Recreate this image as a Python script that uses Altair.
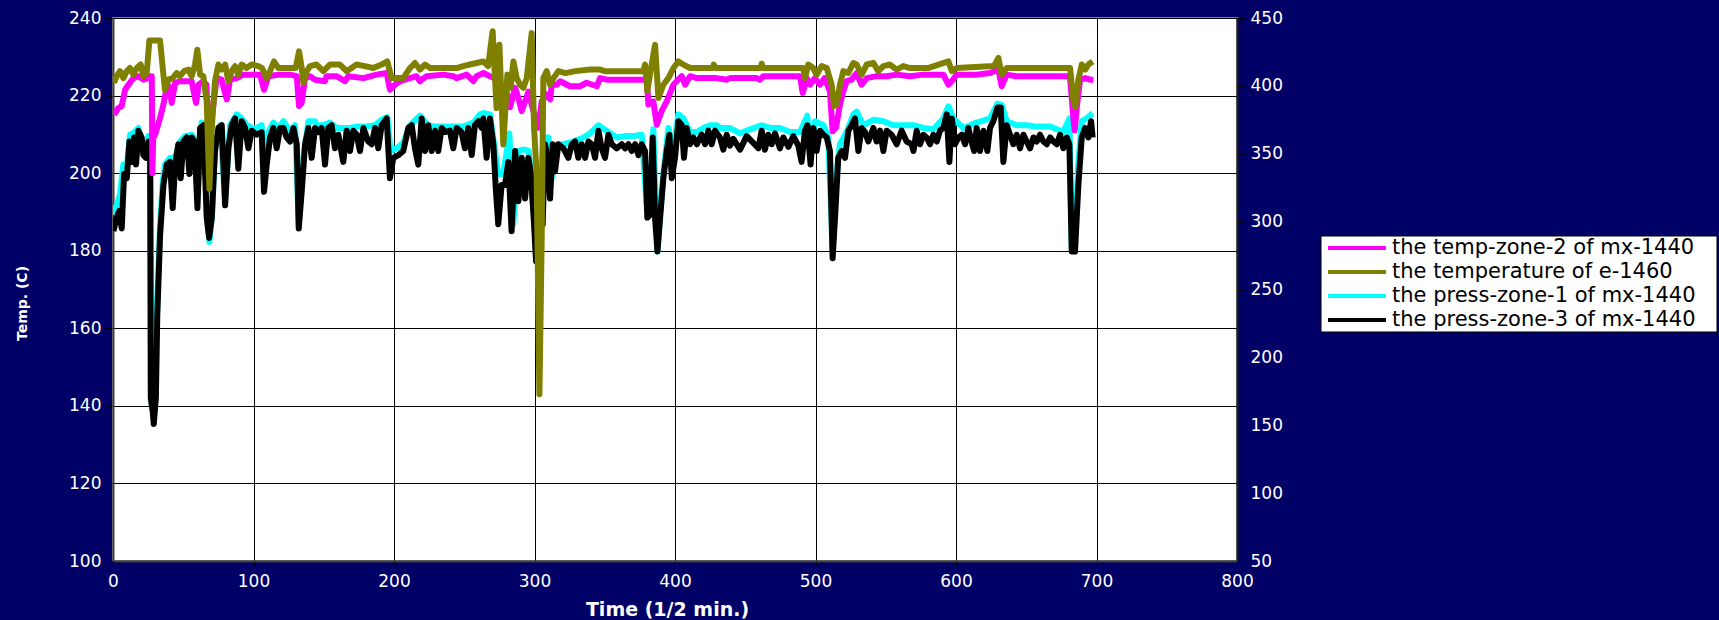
import altair as alt
import pandas as pd

FONT = "DejaVu Sans"

NAMES = ["the temp-zone-2 of mx-1440", "the temperature of e-1460",
         "the press-zone-1 of mx-1440", "the press-zone-3 of mx-1440"]
COLORS = ["#FF00FF", "#808000", "#00FFFF", "#000000"]

X_TICKS = [0, 100, 200, 300, 400, 500, 600, 700, 800]
TEMP_TICKS = [100, 120, 140, 160, 180, 200, 220, 240]
PRESS_TICKS = [50, 100, 150, 200, 250, 300, 350, 400, 450]

# the temp-zone-2 of mx-1440 (left axis, C)
TZ2_X = [0.7, 3.8, 6.2, 8.6, 11.0, 14.5, 18.1, 21.6, 25.2, 26.4,
         27.6, 28.0, 28.6, 30.0, 33.5, 35.9, 38.2, 40.0, 41.8, 44.2,
         48.0, 52.5, 56.0, 59.1, 61.0, 64.3, 66.5, 68.6, 70.5, 73.8,
         77.3, 81.0, 83.3, 88.0, 92.8, 97.5, 104.7, 107.5, 110.6, 118.0,
         126.0, 130.8, 132.4, 134.3, 136.7, 140.2, 143.8, 150.9, 152.0, 159.2,
         165.1, 167.5, 178.2, 187.6, 194.8, 197.1, 200.7, 204.2, 211.4, 216.0,
         218.5, 223.2, 235.1, 242.2, 244.6, 251.7, 256.5, 258.8, 263.6, 268.3,
         271.9, 276.6, 280.0, 282.6, 286.2, 288.5, 290.9, 293.3, 295.6, 299.2,
         302.8, 305.1, 308.7, 311.1, 312.3, 315.8, 318.2, 325.3, 332.4, 337.2,
         344.3, 346.7, 351.4, 358.5, 377.5, 379.9, 381.1, 384.6, 387.0, 390.5,
         394.1, 398.9, 401.2, 404.8, 407.2, 410.7, 415.5, 425.0, 429.6, 436.8,
         439.1, 458.1, 460.5, 462.9, 489.0, 490.9, 493.7, 496.1, 499.6, 503.2,
         506.5, 510.3, 512.2, 514.6, 517.4, 519.8, 522.2, 525.7, 529.3, 532.8,
         536.4, 543.5, 550.6, 557.8, 567.2, 576.8, 591.0, 594.6, 597.0, 600.5,
         614.7, 624.2, 630.2, 632.5, 636.1, 643.0, 680.0, 681.2, 683.6, 684.5,
         686.0, 688.3, 691.9, 695.4, 697.8]
TZ2_Y = [215.1, 216.8, 217.3, 221.5, 222.8, 224.5, 225.0, 224.1, 224.5, 225.0,
         225.0, 200.0, 209.0, 210.0, 214.2, 217.7, 222.0, 222.4, 218.1, 223.3,
         223.7, 223.7, 223.7, 218.1, 222.8, 223.7, 222.8, 205.0, 215.0, 224.5,
         224.1, 219.0, 224.1, 224.5, 225.4, 225.4, 225.4, 221.5, 225.0, 225.4,
         225.4, 225.0, 217.3, 218.1, 224.5, 225.0, 224.1, 223.7, 225.0, 225.0,
         223.7, 225.0, 224.5, 225.4, 225.8, 221.5, 222.8, 223.7, 224.5, 225.0,
         223.7, 225.0, 225.4, 225.0, 224.5, 225.4, 223.7, 225.0, 225.8, 225.0,
         224.5, 220.3, 221.0, 217.0, 222.0, 219.4, 216.0, 218.5, 221.0, 216.0,
         211.7, 218.5, 220.3, 219.0, 222.8, 222.8, 223.7, 222.4, 222.4, 223.3,
         222.4, 224.5, 224.1, 224.1, 224.1, 224.1, 217.7, 218.5, 212.5, 216.0,
         218.5, 222.8, 223.7, 225.0, 222.8, 225.0, 224.5, 224.5, 224.5, 224.1,
         224.5, 224.5, 224.1, 225.0, 225.0, 220.7, 224.5, 222.8, 224.5, 222.8,
         224.5, 221.1, 210.8, 211.7, 217.7, 221.1, 223.7, 224.1, 225.8, 222.8,
         224.5, 225.0, 225.0, 225.4, 225.0, 225.4, 225.4, 222.8, 223.7, 225.4,
         225.4, 225.8, 226.7, 222.4, 225.4, 225.0, 225.0, 224.5, 214.0, 211.0,
         217.0, 224.1, 224.5, 224.1, 224.1]

# the temperature of e-1460 (left axis, C)
TE_X = [0.7, 2.6, 5.0, 7.4, 9.8, 12.1, 14.5, 16.9, 19.7, 21.6,
        24.0, 25.9, 33.5, 35.4, 37.0, 39.4, 42.5, 45.3, 47.7, 50.6,
        53.7, 56.0, 58.4, 60.0, 62.0, 64.3, 66.7, 68.6, 70.3, 72.6,
        75.0, 77.4, 79.8, 82.1, 84.5, 86.9, 89.2, 91.6, 95.0, 98.7,
        103.5, 106.0, 109.4, 111.8, 114.6, 117.7, 130.0, 132.4, 134.3, 135.5,
        137.9, 140.2, 144.9, 149.7, 154.4, 161.5, 166.3, 173.4, 179.3, 185.3,
        191.2, 195.2, 198.3, 206.6, 211.4, 214.9, 218.5, 222.0, 225.6, 244.6,
        249.3, 254.0, 258.8, 263.6, 267.0, 270.2, 273.0, 275.0, 277.8, 280.7,
        283.0, 285.0, 287.3, 289.7, 292.1, 294.5, 298.0, 299.7, 301.5, 303.5,
        305.0, 306.3, 308.7, 311.1, 313.5, 317.0, 322.0, 328.9, 339.5, 346.7,
        350.0, 377.5, 378.7, 380.3, 382.2, 385.8, 388.2, 391.7, 395.3, 398.9,
        402.4, 405.9, 410.7, 427.0, 427.6, 428.8, 461.0, 461.7, 462.5, 491.3,
        492.5, 494.9, 498.4, 500.8, 504.4, 508.0, 511.5, 513.2, 515.0, 517.4,
        519.8, 523.3, 526.9, 529.3, 532.8, 536.4, 541.2, 544.7, 548.3, 553.0,
        557.8, 562.5, 567.2, 580.0, 594.6, 597.0, 600.5, 627.0, 630.2, 632.5,
        636.1, 681.2, 683.6, 685.0, 687.1, 689.5, 692.0, 694.2, 697.3]
TE_Y = [223.3, 225.0, 226.3, 224.5, 226.3, 227.1, 225.4, 227.1, 228.0, 225.0,
        225.8, 234.2, 234.2, 227.1, 221.5, 224.1, 224.5, 225.8, 225.0, 226.3,
        226.7, 225.0, 228.0, 231.8, 225.4, 225.0, 218.5, 196.0, 211.7, 223.7,
        228.0, 226.7, 228.0, 223.7, 226.3, 227.6, 225.4, 228.0, 227.1, 228.0,
        227.6, 227.1, 224.5, 226.3, 228.8, 227.1, 227.1, 231.4, 227.1, 223.3,
        226.3, 227.6, 228.0, 226.3, 228.0, 228.0, 226.3, 228.0, 227.6, 227.1,
        228.0, 228.8, 224.5, 224.5, 227.1, 228.4, 226.7, 228.0, 227.1, 227.1,
        227.6, 228.0, 228.4, 228.8, 227.6, 236.6, 216.8, 233.1, 207.4, 225.4,
        222.0, 228.8, 224.5, 222.8, 222.0, 224.5, 236.1, 211.7, 200.0, 143.0,
        180.0, 224.5, 226.3, 222.8, 224.5, 226.3, 225.8, 226.3, 226.7, 226.7,
        226.3, 226.3, 228.0, 221.1, 225.4, 233.1, 219.4, 222.8, 224.5, 227.1,
        228.8, 228.0, 227.1, 227.1, 228.0, 227.1, 227.1, 228.2, 227.1, 227.1,
        224.5, 228.0, 227.1, 225.4, 227.6, 227.1, 222.8, 217.3, 217.7, 222.8,
        226.3, 225.8, 228.4, 228.0, 225.4, 228.0, 228.4, 226.3, 227.6, 228.0,
        226.7, 227.6, 227.1, 227.1, 228.8, 226.3, 227.1, 227.6, 229.7, 225.4,
        227.1, 227.1, 218.5, 217.0, 224.1, 228.0, 226.7, 228.0, 228.8]

# the press-zone-1 of mx-1440 (right axis)
PZ1_X = [0.0, 2.6, 5.0, 7.4, 9.8, 12.1, 15.7, 18.1, 21.6, 25.2,
         26.8, 27.5, 28.5, 30.0, 31.5, 33.5, 35.5, 37.0, 40.6, 44.2,
         47.7, 51.3, 56.0, 58.5, 60.1, 63.1, 65.5, 68.6, 70.5, 72.6,
         76.2, 79.8, 83.3, 88.0, 91.6, 95.2, 98.7, 102.3, 105.8, 107.5,
         110.6, 114.1, 117.7, 121.3, 126.0, 129.6, 132.2, 135.5, 139.1, 143.8,
         144.9, 149.7, 154.4, 159.2, 163.9, 168.7, 173.4, 179.3, 186.5, 191.2,
         195.2, 197.6, 201.9, 206.6, 211.4, 218.5, 224.4, 229.2, 235.1, 242.2,
         249.3, 256.5, 261.2, 263.6, 268.3, 271.9, 274.2, 277.8, 282.1, 284.9,
         288.5, 291.0, 293.3, 296.0, 299.7, 301.6, 303.9, 306.3, 309.9, 312.3,
         315.8, 320.6, 327.7, 334.8, 339.5, 345.5, 352.6, 358.5, 364.5, 370.4,
         376.3, 379.9, 382.5, 384.6, 387.5, 391.7, 395.3, 398.9, 402.4, 406.0,
         410.7, 415.5, 420.2, 425.0, 429.7, 432.0, 439.0, 446.3, 453.4, 461.7,
         467.6, 474.7, 481.8, 489.0, 494.2, 496.1, 499.6, 505.6, 509.1, 512.2,
         514.6, 517.4, 522.2, 527.0, 529.3, 534.0, 541.2, 548.3, 555.4, 562.5,
         569.6, 576.8, 583.9, 591.0, 594.6, 598.1, 605.3, 614.7, 624.2, 629.5,
         632.5, 636.1, 643.2, 650.3, 657.5, 667.0, 676.4, 680.7, 682.4, 684.7,
         687.1, 689.5, 693.0, 697.3]
PZ1_Y = [305, 312, 320, 342, 340, 364, 366, 369, 352, 363,
         350, 165, 160, 175, 240, 298, 330, 342, 347, 347,
         359, 363, 364, 360, 317, 373, 371, 285, 305, 357,
         371, 317, 371, 379, 376, 371, 369, 369, 371, 327,
         366, 373, 369, 374, 366, 371, 298, 347, 374, 374,
         371, 371, 373, 369, 369, 369, 370, 370, 371, 375,
         377, 352, 354, 358, 371, 378, 371, 370, 370, 370,
         370, 373, 379, 380, 379, 352, 335, 335, 365, 298,
         352, 353, 353, 352, 303, 271, 300, 362, 362, 332,
         357, 357, 359, 362, 365, 371, 366, 362, 363, 363,
         364, 312, 330, 368, 278, 335, 369, 352, 379, 376,
         366, 366, 369, 371, 371, 369, 369, 365, 368, 371,
         369, 369, 366, 366, 378, 352, 374, 371, 362, 278,
         332, 357, 366, 379, 381, 371, 375, 374, 371, 371,
         371, 369, 368, 376, 385, 376, 369, 373, 376, 387,
         386, 374, 371, 371, 370, 370, 366, 376, 280, 290,
         344, 374, 376, 380]

# the press-zone-3 of mx-1440 (right axis)
PZ3_X = [0.3, 2.6, 4.5, 6.2, 7.9, 9.8, 11.7, 13.3, 15.0, 16.4,
         18.1, 20.4, 21.6, 23.5, 25.2, 26.4, 26.9, 28.3, 29.0, 30.5,
         31.5, 33.5, 35.9, 38.2, 40.6, 42.5, 44.2, 46.5, 48.2, 50.1,
         52.5, 54.4, 56.0, 58.0, 60.1, 62.0, 64.3, 66.7, 68.4, 70.3,
         72.6, 75.0, 77.4, 79.8, 82.1, 84.5, 86.9, 89.2, 91.6, 94.0,
         96.4, 98.7, 102.3, 105.8, 107.5, 109.4, 111.8, 114.1, 116.5, 118.9,
         121.3, 123.6, 126.0, 128.4, 130.8, 132.2, 134.3, 136.7, 139.1, 141.4,
         143.8, 146.1, 148.5, 150.9, 153.2, 155.6, 158.0, 160.4, 163.9, 166.3,
         168.7, 171.0, 173.4, 175.8, 178.2, 181.7, 184.1, 186.5, 188.8, 191.2,
         194.8, 197.1, 199.5, 203.1, 206.6, 210.2, 212.6, 214.9, 217.3, 219.7,
         222.1, 224.4, 226.8, 229.2, 231.5, 233.9, 236.3, 239.8, 242.2, 244.6,
         248.1, 250.5, 252.9, 255.3, 257.6, 260.0, 262.4, 263.6, 265.9, 268.3,
         270.7, 272.6, 274.2, 276.6, 279.0, 281.4, 283.7, 286.2, 288.5, 290.9,
         293.3, 295.6, 297.3, 299.7, 301.1, 303.5, 305.8, 307.5, 309.2, 311.1,
         313.0, 314.6, 317.0, 320.6, 324.1, 326.5, 328.9, 331.2, 333.6, 336.0,
         338.4, 340.8, 343.1, 345.5, 347.8, 350.2, 352.6, 355.0, 358.5, 362.1,
         364.5, 366.9, 369.2, 371.6, 374.0, 376.3, 378.7, 380.3, 382.2, 384.1,
         385.8, 387.5, 389.4, 391.7, 394.1, 396.0, 397.7, 400.0, 402.4, 404.8,
         406.4, 408.3, 410.7, 413.1, 415.5, 419.0, 421.4, 423.8, 426.1, 428.5,
         432.0, 434.4, 436.8, 439.1, 441.5, 446.3, 451.0, 455.7, 459.3, 461.7,
         464.0, 466.4, 468.8, 471.2, 474.7, 477.1, 480.7, 484.2, 487.8, 490.1,
         492.5, 494.2, 496.5, 498.4, 500.8, 503.2, 505.6, 508.0, 510.3, 512.2,
         513.9, 516.2, 518.6, 521.0, 523.4, 525.7, 528.1, 530.5, 532.8, 535.2,
         537.6, 541.2, 543.5, 545.9, 548.3, 550.6, 554.2, 557.8, 561.3, 564.9,
         568.4, 569.7, 572.0, 574.4, 576.8, 579.1, 581.5, 583.9, 586.3, 588.6,
         591.0, 593.4, 595.3, 597.0, 599.3, 601.7, 604.1, 606.5, 608.8, 611.0,
         612.9, 614.7, 617.1, 619.5, 622.3, 624.2, 626.6, 629.5, 631.8, 633.7,
         636.1, 638.5, 640.8, 643.2, 645.6, 648.0, 650.3, 652.7, 655.1, 657.5,
         659.8, 662.2, 664.6, 667.0, 669.3, 671.7, 674.1, 676.4, 678.8, 680.7,
         682.4, 684.7, 687.1, 689.5, 691.9, 694.2, 696.1, 697.3]
PZ3_Y = [293, 303, 308, 295, 335, 332, 359, 344, 362, 342,
         367, 362, 349, 347, 359, 344, 170, 160, 151, 170,
         230, 290, 327, 342, 344, 310, 342, 357, 332, 359,
         362, 335, 362, 359, 310, 369, 371, 303, 288, 303,
         352, 369, 371, 312, 354, 371, 376, 339, 374, 369,
         354, 367, 364, 366, 322, 342, 362, 369, 354, 369,
         369, 362, 359, 369, 357, 295, 322, 357, 369, 347,
         369, 366, 369, 342, 369, 371, 354, 364, 344, 367,
         352, 367, 364, 352, 369, 359, 357, 369, 354, 371,
         376, 332, 347, 349, 352, 369, 371, 354, 342, 376,
         352, 371, 352, 367, 352, 369, 366, 367, 354, 369,
         366, 354, 369, 349, 371, 374, 369, 376, 347, 376,
         357, 322, 298, 327, 327, 344, 293, 352, 315, 347,
         317, 347, 337, 298, 271, 298, 298, 357, 347, 317,
         357, 337, 357, 354, 347, 357, 359, 347, 357, 347,
         359, 357, 347, 367, 354, 347, 364, 357, 354, 357,
         354, 357, 352, 357, 349, 357, 352, 303, 305, 362,
         303, 278, 303, 332, 352, 364, 332, 347, 374, 371,
         347, 369, 357, 362, 357, 364, 357, 367, 357, 367,
         362, 353, 364, 356, 361, 353, 363, 358, 354, 367,
         353, 364, 357, 365, 354, 362, 355, 363, 356, 344,
         367, 371, 342, 369, 352, 367, 364, 362, 352, 273,
         303, 347, 352, 347, 367, 371, 376, 352, 369, 366,
         359, 369, 359, 367, 352, 367, 364, 357, 367, 359,
         357, 352, 367, 357, 364, 362, 357, 364, 359, 367,
         369, 379, 344, 376, 357, 362, 364, 357, 369, 359,
         352, 369, 352, 367, 352, 369, 374, 384, 384, 344,
         371, 364, 357, 364, 354, 364, 359, 354, 362, 359,
         364, 359, 357, 362, 359, 357, 364, 354, 362, 357,
         278, 278, 327, 362, 369, 362, 374, 362]


def frame(name, xs, ys):
    return pd.DataFrame({"series": name, "t": xs, "v": ys})


color_scale = alt.Scale(domain=NAMES, range=COLORS)
color = alt.Color("series:N", scale=color_scale, legend=None)

x_enc = alt.X("t:Q", scale=alt.Scale(domain=[0, 800], nice=False, zero=False),
              axis=alt.Axis(values=X_TICKS, title="Time (1/2 min.)", grid=True, tickSize=4,
                            labelPadding=8, labelFlush=False, titleFontSize=19,
                            titleFontWeight="bold", titleX=554, titleY=39,
                            titleBaseline="top", titleAlign="center"))

y_temp = alt.Y("v:Q", scale=alt.Scale(domain=[100, 240], nice=False, zero=False),
               axis=alt.Axis(orient="left", values=TEMP_TICKS, title="Temp. (C)", grid=True,
                             tickSize=7, labelPadding=5, titleFontSize=14,
                             titleFontWeight="bold", titleAngle=270, titleX=-91, titleY=285,
                             titleAlign="center", titleBaseline="middle"))
y_press = alt.Y("v:Q", scale=alt.Scale(domain=[50, 450], nice=False, zero=False),
                axis=alt.Axis(orient="right", values=PRESS_TICKS, title=None, grid=False,
                              tickSize=7, labelPadding=6, domainColor="#202020"))


def line(df, yenc):
    return alt.Chart(df).mark_line(strokeWidth=6, strokeJoin="round", clip=True).encode(
        x=x_enc, y=yenc, color=color)


press = alt.layer(line(frame(NAMES[2], PZ1_X, PZ1_Y), y_press),
                  line(frame(NAMES[3], PZ3_X, PZ3_Y), y_press))
temps = alt.layer(line(frame(NAMES[0], TZ2_X, TZ2_Y), y_temp),
                  line(frame(NAMES[1], TE_X, TE_Y), y_temp))

# legend box drawn from the series names
legend_df = pd.DataFrame({"series": NAMES, "row": [0, 1, 2, 3]})
row_y = alt.Y("row:O", scale=alt.Scale(type="point", range=[230, 302], padding=0), axis=None)
legend_box = alt.Chart(pd.DataFrame({"box": [0]})).mark_rect(
    fill="white", stroke="black", strokeWidth=1).encode(
    x=alt.value(1208), x2=alt.value(1604), y=alt.value(218), y2=alt.value(314))
legend_sym = alt.Chart(legend_df).mark_rule(strokeWidth=4).encode(
    x=alt.value(1215), x2=alt.value(1273), y=row_y, color=color)
legend_txt = alt.Chart(legend_df).mark_text(
    align="left", baseline="middle", font=FONT, fontSize=21, color="black").encode(
    x=alt.value(1279), y=row_y, text="series:N")
legend = alt.layer(legend_box, legend_sym, legend_txt)

chart = alt.layer(press, temps, legend).resolve_scale(y="independent").properties(
    width=1124, height=543,
    padding={"left": 113, "top": 18, "right": 482, "bottom": 59},
    autosize=alt.AutoSizeParams(type="none"),
    background="#000066",
).configure_view(
    fill="white", stroke="#808080", strokeWidth=2
).configure_axis(
    labelFont=FONT, labelFontSize=17, labelColor="white",
    titleFont=FONT, titleColor="white",
    gridColor="#000000", gridOpacity=1, gridWidth=1,
    tickColor="#000000", tickWidth=1, domainColor="#404040", domainWidth=2,
)

chart.save("out.html", embed_options={"renderer": "svg", "actions": False})
